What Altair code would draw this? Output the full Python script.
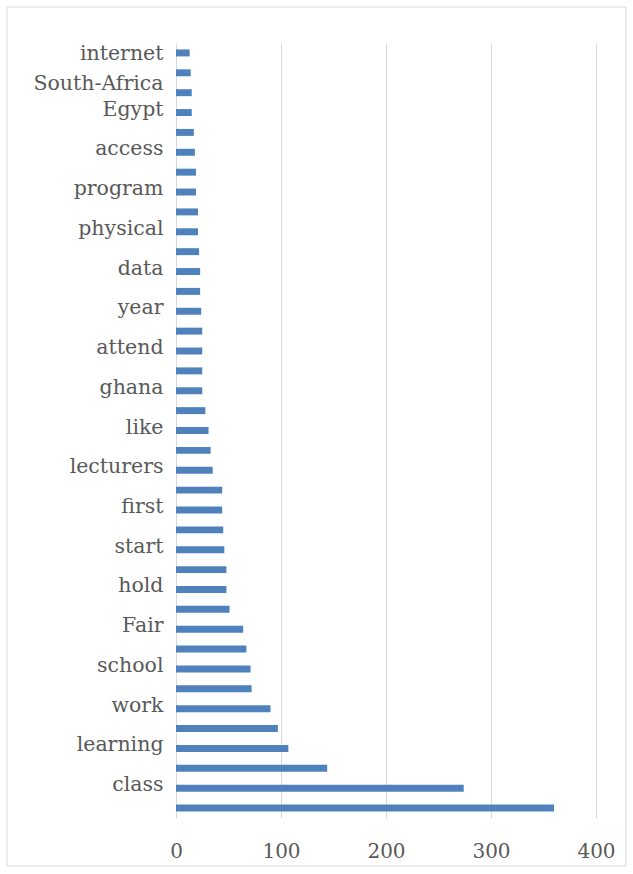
import json
import altair as alt
import pandas as pd

# Bar values, top to bottom
values = [13, 14, 15, 15, 17, 18, 19, 19, 21, 21,
          22, 23, 23, 24, 25, 25, 25, 25, 28, 31,
          33, 35, 44, 44, 45, 46, 48, 48, 51, 64,
          67, 71, 72, 90, 97, 107, 144, 274, 360]

# Category labels that are shown (every other bar), top to bottom
labels = ["internet", "South-Africa", "Egypt", "access", "program", "physical",
          "data", "year", "attend", "ghana", "like", "lecturers", "first",
          "start", "hold", "Fair", "school", "work", "learning", "class"]

x_ticks = [0, 100, 200, 300, 400]

# label for each bar: first bar, then every second bar
bar_labels = []
for i in range(len(values)):
    if i == 0:
        bar_labels.append(labels[0])
    elif i % 2 == 1 and (i + 1) // 2 < len(labels):
        bar_labels.append(labels[(i + 1) // 2])
    else:
        bar_labels.append("")

df = pd.DataFrame({"idx": list(range(len(values))), "count": values})

label_expr = json.dumps(bar_labels) + "[datum.value]"

FONT = "DejaVu Serif"
GRID = "#d9d9d9"
TEXT = "#595959"

label_offset = {
    "condition": [
        {"test": "datum.value == 0", "value": 1},
        {"test": "datum.value == 1", "value": 11},
    ],
    "value": -3,
}

bars = alt.Chart(df).mark_bar(color="#4f81bd").encode(
    x=alt.X("count:Q",
            scale=alt.Scale(domain=[0, 400], nice=False, zero=True),
            axis=alt.Axis(values=x_ticks, grid=True, gridColor=GRID, gridWidth=1,
                          domain=False, ticks=False, title=None,
                          labelFont=FONT, labelFontSize=20, labelColor=TEXT,
                          labelPadding=23, labelFlush=False)),
    y=alt.Y("idx:O",
            sort="ascending",
            scale=alt.Scale(paddingInner=0.65, paddingOuter=0.325),
            axis=alt.Axis(labelExpr=label_expr, title=None, ticks=False,
                          domain=False, grid=False,
                          labelFont=FONT, labelFontSize=20.5, labelColor=TEXT,
                          labelPadding=13, labelOverlap=False, labelBound=False,
                          labelOffset=label_offset, labelAlign="right",
                          labelBaseline="middle")),
)

frame = alt.Chart(alt.Data(values=[{}])).mark_rect(
    fillOpacity=0, stroke=GRID, strokeWidth=1
).encode(
    x=alt.value(-169), x2=alt.value(450),
    y=alt.value(-36), y2=alt.value(823),
)

chart = alt.layer(frame, bars).properties(
    width=420, height=775,
    autosize=alt.AutoSizeParams(type="none"),
    padding={"left": 176, "top": 43, "right": 37, "bottom": 56},
    background="white",
).configure_view(stroke=None)

chart.save("out.html", embed_options={"renderer": "svg", "actions": False})
